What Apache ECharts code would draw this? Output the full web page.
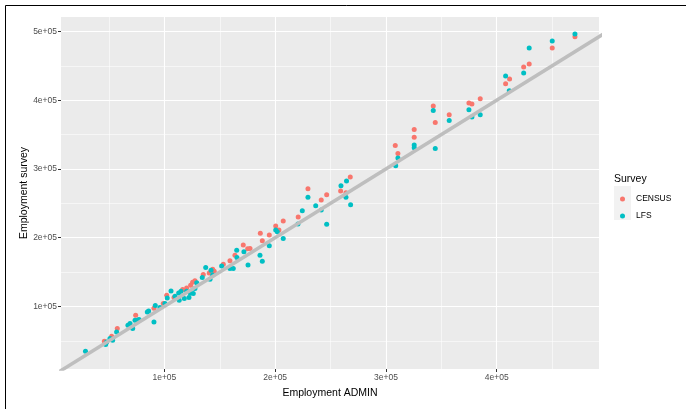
<!DOCTYPE html>
<html><head><meta charset="utf-8">
<script src="https://cdn.jsdelivr.net/npm/echarts@6/dist/echarts.min.js"></script>
<style>html,body{margin:0;padding:0;background:#fff}#c{width:686px;height:409px}</style>
</head><body><div id="c"></div>
<script>
// ---- data (values in persons) ----
const seriesNames = ['CENSUS', 'LFS'];
const censusAdmin = [470600,450100,429300,424300,411600,408000,385100,374900,377600,357100,342700,344500,325500,325500,308400,310800,267800,259100,263900,229600,246500,241600,220800,207300,200500,203400,186600,194700,188400,171200,175200,177300,163700,159200,153200,143600,140500,135100,127600,125500,123700,120100,116500,102100,108700,99000,90600,74100,57500,52400,45800,145000];
const censusSurvey = [492400,475900,452600,448300,430800,423900,402000,395800,394300,378700,391400,367500,357300,346200,334000,322300,288300,267900,265500,271300,262500,254800,230000,224200,216900,211100,206300,203800,195500,189200,183800,184100,174600,166300,161500,154200,148800,146500,137200,135300,130900,127000,124600,116300,113000,104200,97400,87200,67800,56600,49300,151300];
const lfsAdmin = [470600,450100,429300,424300,408000,411300,374900,385100,377600,357100,342700,344500,325500,325500,310800,308800,264400,259400,263900,268100,229600,236600,241600,224500,220600,246500,207300,200500,201900,194700,186300,188400,175500,171800,165300,165500,159200,162200,151700,137300,142100,143600,134200,141200,129200,127600,120100,115000,112900,123400,126100,106000,109600,102600,118000,122200,113400,100500,91800,96000,84600,85800,77100,73500,69000,67100,71400,90600,56900,50900,53300,47900,47000,28800,75500];
const lfsSurvey = [496400,486200,475900,439500,435100,413700,386000,378700,375400,370400,385000,329600,335000,331000,316000,304800,282500,275700,258700,248000,258700,246500,240200,239200,219800,219400,199000,211100,208600,188200,174600,165900,160100,179400,181900,171300,155200,155200,159000,156700,152800,145900,142100,139700,134300,126100,122200,122200,119700,119200,118800,122600,114900,112400,111500,113000,109000,104200,101300,98400,92000,93400,80900,79900,75100,72600,67800,77400,62800,53200,50700,48300,44500,34700,79900];
const xMajorTicks = [100000, 200000, 300000, 400000];
const xMinorTicks = [50000, 150000, 250000, 350000, 450000];
const yMajorTicks = [100000, 200000, 300000, 400000, 500000];
const yMinorTicks = [50000, 150000, 250000, 350000, 450000];
const refLine = [[0, 0], [600000, 600000]];
const xRange = [6700, 492300];
const yRange = [9000, 521000];

const FONT = '"Liberation Sans", Arial, sans-serif';
const sci = v => (v / 100000) + 'e+05';
const zip = (a, b) => a.map((v, i) => [v, b[i]]);

function majorAxis(range, ticks, name, nameGap, isY) {
  return {
    type: 'value', min: range[0], max: range[1],
    position: isY ? 'left' : 'bottom',
    name: name, nameLocation: 'middle', nameGap: nameGap, nameMoveOverlap: false,
    nameTextStyle: {color: '#000', fontSize: 10.5, fontFamily: FONT},
    axisLine: {show: false},
    axisTick: {show: true, length: 3, customValues: ticks, lineStyle: {color: '#333', width: 1}},
    axisLabel: {show: true, customValues: ticks, formatter: sci, color: '#4D4D4D', fontSize: 8.5, fontFamily: FONT, margin: 4},
    splitLine: {show: true, lineStyle: {color: '#FFFFFF', width: 1.1}},
    minorSplitLine: {show: false}
  };
}
function minorAxis(range, ticks, isY) {
  return {
    type: 'value', min: range[0], max: range[1],
    position: isY ? 'right' : 'top',
    axisLine: {show: false},
    axisTick: {show: false, customValues: ticks},
    axisLabel: {show: false, customValues: ticks},
    splitLine: {show: true, lineStyle: {color: '#FFFFFF', width: 0.55}}
  };
}

const chart = echarts.init(document.getElementById('c'), null, {renderer: 'canvas'});
chart.setOption({
  animation: false,
  backgroundColor: '#FFFFFF',
  textStyle: {fontFamily: FONT},
  grid: {left: 61, right: 87, top: 17, bottom: 40, show: true, backgroundColor: '#EBEBEB', borderWidth: 0},
  title: {text: 'Survey', left: 609, top: 169, textStyle: {fontSize: 10.5, fontWeight: 'normal', color: '#000', fontFamily: FONT}},
  legend: {
    data: seriesNames, orient: 'vertical', left: 615, top: 188,
    icon: 'circle', itemWidth: 5, itemHeight: 5, itemGap: 5,
    textStyle: {fontSize: 8.5, color: '#000', fontFamily: FONT, lineHeight: 12, padding: [0, 0, 0, 6]}
  },
  xAxis: [majorAxis(xRange, xMajorTicks, 'Employment ADMIN', 19, false), minorAxis(xRange, xMinorTicks, false)],
  yAxis: [majorAxis(yRange, yMajorTicks, 'Employment survey', 31, true), minorAxis(yRange, yMinorTicks, true)],
  graphic: [
    {type: 'rect', z: -1, shape: {x: 614, y: 186, width: 17, height: 17}, style: {fill: '#F2F2F2'}},
    {type: 'rect', z: -1, shape: {x: 614, y: 203, width: 17, height: 17}, style: {fill: '#F2F2F2'}},
    {type: 'rect', shape: {x: 5.5, y: 5.5, width: 720, height: 440}, style: {fill: 'none', stroke: '#000', lineWidth: 1}}
  ],
  series: [
    {name: 'CENSUS', type: 'scatter', data: zip(censusAdmin, censusSurvey), symbolSize: 5, itemStyle: {color: '#F8766D', opacity: 1}, z: 3},
    {name: 'LFS', type: 'scatter', data: zip(lfsAdmin, lfsSurvey), symbolSize: 5, itemStyle: {color: '#00BFC4', opacity: 1}, z: 3},
    {name: 'ref', type: 'line', data: refLine, symbol: 'none', clip: true, silent: true,
     lineStyle: {color: '#BEBEBE', width: 3.5}, z: 4}
  ]
});
</script></body></html>
